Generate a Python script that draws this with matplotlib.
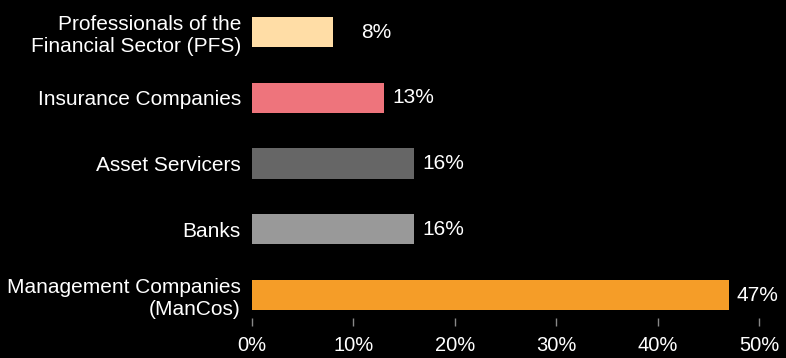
import matplotlib.pyplot as plt

categories = [
    "Management Companies\n(ManCos)",
    "Banks",
    "Asset Servicers",
    "Insurance Companies",
    "Professionals of the\nFinancial Sector (PFS)",
]
values = [47, 16, 16, 13, 8]
colors = ["#F59D28", "#999999", "#666666", "#EE747C", "#FFDDA6"]
xticks = [0, 10, 20, 30, 40, 50]
# extra gap before each value label (points); the PFS label sits further out
label_gap = [6, 6, 6, 6, 20]

plt.rcParams["font.family"] = ["Liberation Sans", "DejaVu Sans"]

fig = plt.figure(figsize=(7.86, 3.58), dpi=100, facecolor="black")
ax = fig.add_axes([252 / 786, 1 - 318 / 358, 507 / 786, 318 / 358])
ax.set_facecolor("black")

y = range(len(categories))
ax.barh(y, values, height=0.46, color=colors)

for yi, v, g in zip(y, values, label_gap):
    ax.annotate(f"{v}%", (v, yi), xytext=(g, 0), textcoords="offset points",
                va="center", ha="left", color="white", fontsize=15)

ax.set_xlim(0, 50)
ax.set_ylim(-0.35, 4.49)
ax.set_yticks(list(y))
ax.set_yticklabels(categories, color="white", fontsize=15, ha="right")
ax.set_xticks(xticks)
ax.set_xticklabels([f"{t}%" for t in xticks], color="white", fontsize=14.5)
ax.tick_params(axis="y", length=0, pad=8)
ax.tick_params(axis="x", length=6, width=1, color="#888888", pad=7)
for s in ax.spines.values():
    s.set_visible(False)

fig.savefig("out.png", dpi=100, facecolor="black")
